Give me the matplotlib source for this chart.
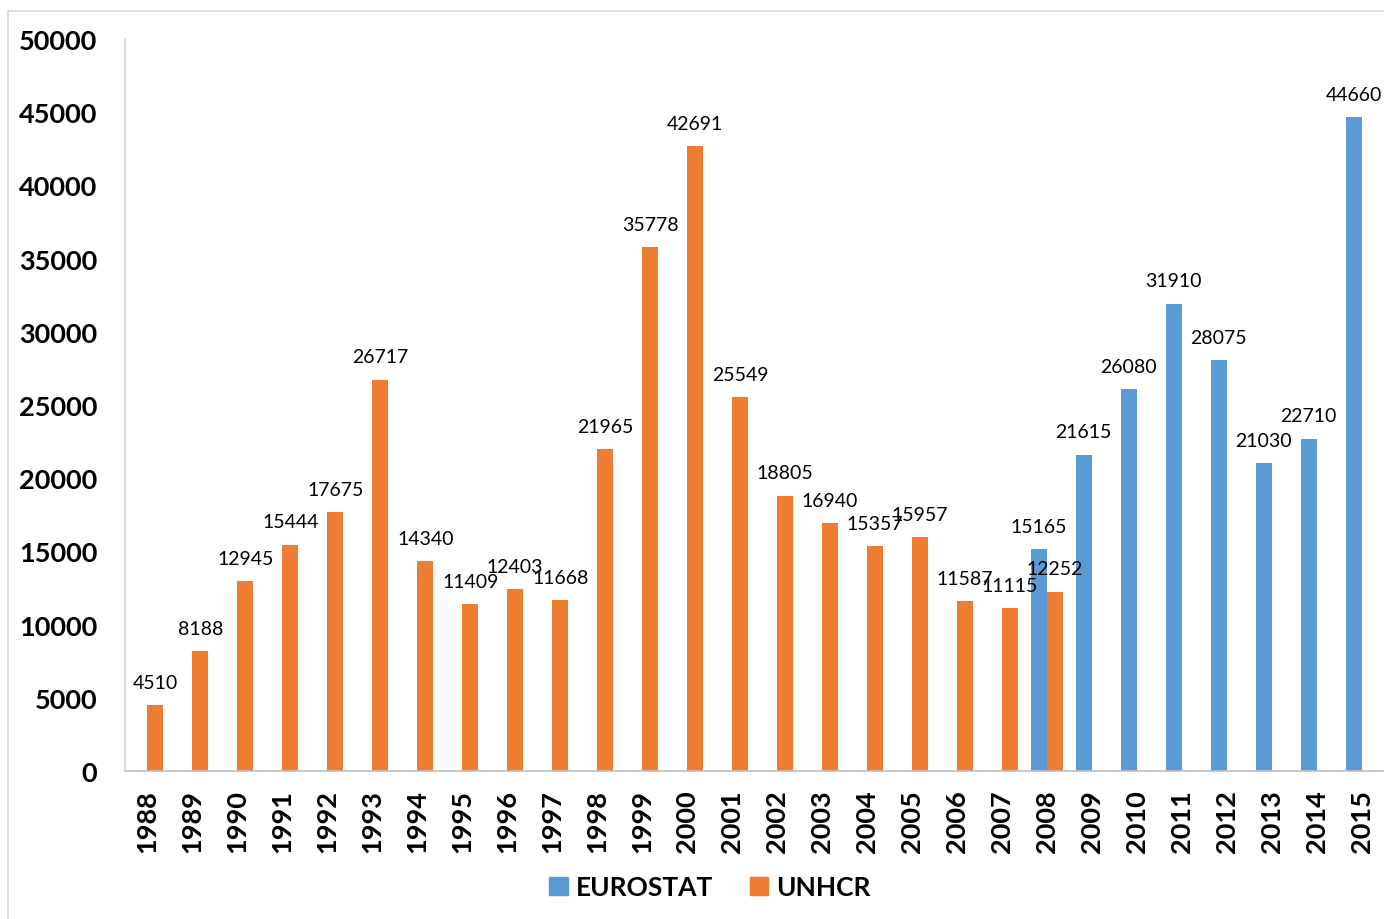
import matplotlib
matplotlib.use("Agg")
import matplotlib.pyplot as plt
from matplotlib.patches import Rectangle, Patch
import numpy as np

years = [str(y) for y in range(1988, 2016)]
unhcr = [4510, 8188, 12945, 15444, 17675, 26717, 14340, 11409, 12403, 11668,
         21965, 35778, 42691, 25549, 18805, 16940, 15357, 15957, 11587, 11115,
         12252, None, None, None, None, None, None, None]
eurostat = [None] * 20 + [15165, 21615, 26080, 31910, 28075, 21030, 22710, 44660]
yticks = [0, 5000, 10000, 15000, 20000, 25000, 30000, 35000, 40000, 45000, 50000]

BLUE = "#5B9BD5"
ORANGE = "#ED7D31"

plt.rcParams['font.family'] = ['Lato', 'DejaVu Sans']

fig = plt.figure(figsize=(13.84, 9.2), dpi=100)
fig.patches.append(Rectangle((8 / 1384, -0.1), 1.2, 1.1 - 12 / 920,
                             transform=fig.transFigure, fill=False,
                             edgecolor="#d9d9d9", linewidth=1.2))
ax = fig.add_axes([125 / 1384, 1 - 772 / 920, (1384 - 125) / 1384, (772 - 40) / 920])

x = np.arange(len(years))
bw = 0.356
off = bw / 2

for i, v in enumerate(eurostat):
    if v is None:
        continue
    ax.bar(x[i] - off, v, width=bw, color=BLUE)
    ax.annotate(f"{v}", (x[i] - off, v), xytext=(0, 16.5), textcoords="offset points",
                ha="center", va="center", fontsize=14, color="#000000")
for i, v in enumerate(unhcr):
    if v is None:
        continue
    ax.bar(x[i] + off, v, width=bw, color=ORANGE)
    ax.annotate(f"{v}", (x[i] + off, v), xytext=(0, 16.5), textcoords="offset points",
                ha="center", va="center", fontsize=14, color="#000000")

ax.set_xlim(-0.5, len(years) - 0.5)
ax.set_ylim(0, 50000)
ax.set_yticks(yticks)
ax.set_yticklabels([str(t) for t in yticks], fontsize=19.5, fontweight="bold")
ax.set_xticks(x)
ax.set_xticklabels(years, rotation=90, fontsize=19.5, fontweight="bold")
ax.tick_params(axis="y", length=0, pad=20)
ax.tick_params(axis="x", length=0, pad=13)
for s in ["top", "right"]:
    ax.spines[s].set_visible(False)
ax.spines["left"].set_color("#d9d9d9")
ax.spines["bottom"].set_color("#bfbfbf")
ax.spines["left"].set_linewidth(1.2)
ax.spines["bottom"].set_linewidth(1.2)

handles = [Patch(color=BLUE, label="EUROSTAT"), Patch(color=ORANGE, label="UNHCR")]
fig.legend(handles=handles, loc="center", bbox_to_anchor=(710 / 1384, 1 - 888 / 920),
           ncol=2, frameon=False, prop={"size": 19, "weight": "bold"},
           handlelength=0.7, handleheight=0.7, handletextpad=0.3, columnspacing=1.4)

fig.savefig("out.png", dpi=100)
